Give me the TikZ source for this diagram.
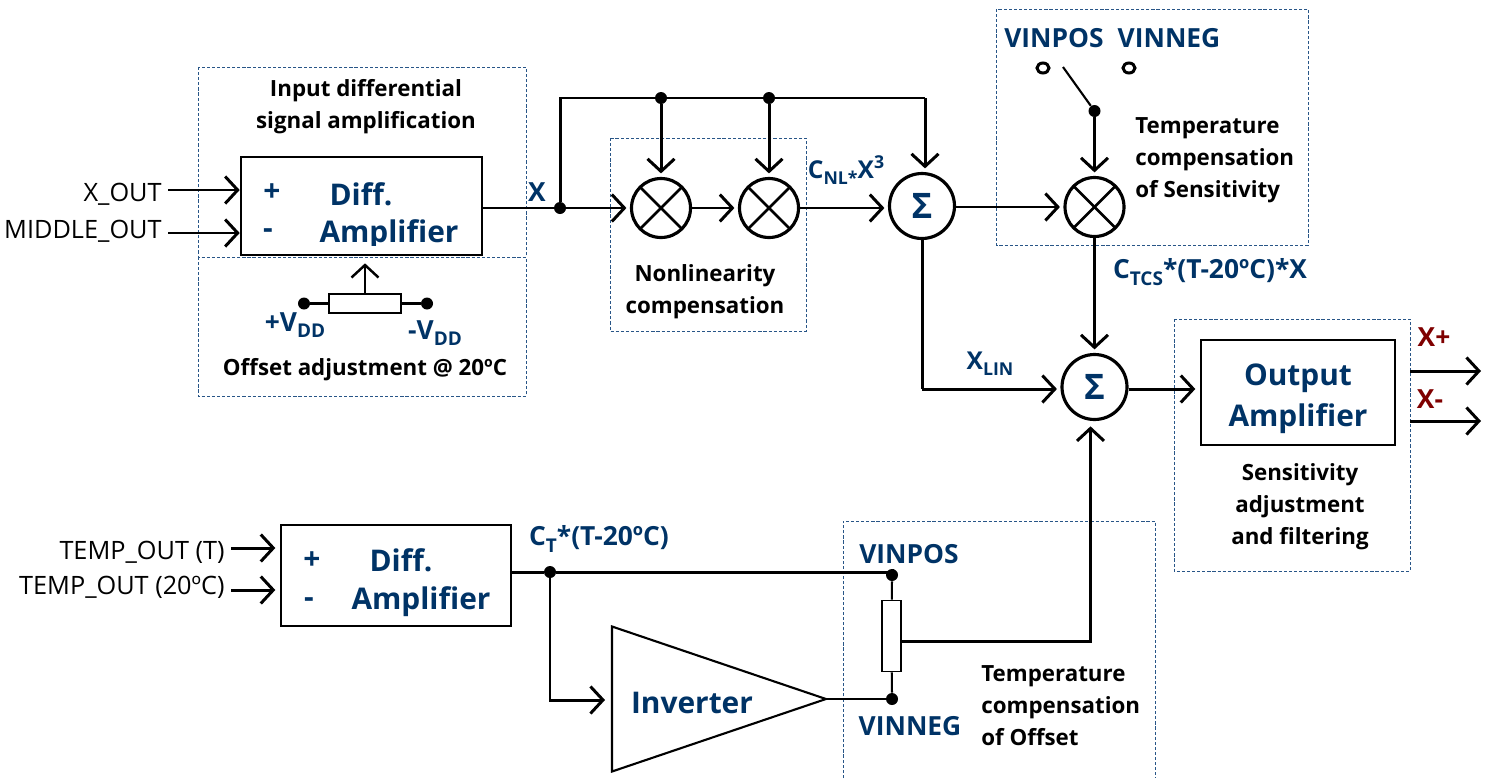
\documentclass[tikz,border=0pt]{standalone}
\usepackage{fontspec}
\setmainfont{Open Sans}
\usetikzlibrary{positioning, fit, arrows.meta, shapes}
\definecolor{navy}{RGB}{0,51,102}
\definecolor{dashblue}{RGB}{40,85,135}
\definecolor{outred}{RGB}{127,0,0}
\newcommand{\lowtxt}[1]{\raisebox{-.45ex}{\scalebox{.72}{#1}}}
\newcommand{\hightxt}[1]{\raisebox{.75ex}{\scalebox{.72}{#1}}}

\begin{document}
\begin{tikzpicture}[
    x=.02cm, y=-.02cm,
    % GLOBAL CFG
    >={Straight Barb[length=2.5mm, width=5.4mm]},
    % Styles
    dashbox/.style={% For dotted frames
        draw=dashblue,
        line width=.55pt,
        dash pattern=on 1.8pt off 1.1pt,
    },
    block/.style={% For amplifiers
        rectangle,
        draw,
        line width=1.5pt,
        inner sep=0pt,
    },
    mult/.style={% For multipliers
        circle,
        draw,
        line width=1.8pt,
        minimum size=1.18cm,
        inner sep=0pt,
        path picture={
            \draw [line width=1.5pt] (path picture bounding box.north west) -- (path picture bounding box.south east);
            \draw [line width=1.5pt] (path picture bounding box.north east) -- (path picture bounding box.south west);
        },
    },
    summer/.style={% For adders
        circle,
        draw,
        line width=1.8pt,
        minimum size=1.3cm,
        inner sep=0pt,
        text=navy,
        font=\fontsize{20}{22}\selectfont\bfseries,
    },
    dot/.style={% For junctions
        circle,
        fill=black,
        minimum size=.24cm,
        inner sep=0pt,
    },
    ring/.style={% For open contacts
        ellipse,
        draw,
        line width=1.7pt,
        minimum width=.24cm,
        minimum height=.2cm,
        inner sep=0pt,
    },
    res/.style={% For resistors
        rectangle,
        draw,
        line width=1.1pt,
        inner sep=0pt,
    },
    note/.style={% For black captions
        align=center,
        inner sep=0pt,
        font=\fontsize{12.7}{18.2}\selectfont\bfseries,
    },
    sig/.style={% For blue signal names
        text=navy,
        inner sep=0pt,
        font=\fontsize{15}{18}\selectfont\bfseries,
    },
    big/.style={% For text in blocks
        text=navy,
        inner sep=0pt,
        font=\fontsize{17}{20}\selectfont\bfseries,
    },
    pin/.style={% For external inputs
        inner sep=0pt,
        anchor=east,
        font=\fontsize{14.4}{16}\selectfont,
    },
    outsig/.style={% For outputs
        text=outred,
        inner sep=0pt,
        font=\fontsize{15}{18}\selectfont\bfseries,
    },
    Wire/.style={
        line width=1.7pt,
    },
    ThinWire/.style={
        line width=1.2pt,
    },
    ]

    \useasboundingbox (0,0) rectangle (1491,778);

    % Draw frames
    \draw [dashbox] (198,67) rectangle (526,257);
    \draw [dashbox] (198,257) rectangle (526,396);
    \draw [dashbox] (610,138) rectangle (806,331);
    \draw [dashbox] (996,9) rectangle (1308,245);
    \draw [dashbox] (1174,319) rectangle (1410,571);
    \draw [dashbox] (843,778) |- (1155,521) -- (1155,778);

    % Draw blocks named amp#
    \node [block, minimum width=4.82cm, minimum height=1.96cm] (amp1) at (361.5,206) {};
    \node [block, minimum width=4.6cm, minimum height=2.02cm] (amp2) at (396,575.5) {};
    \node [block, minimum width=3.88cm, minimum height=2.1cm] (amp3) at (1298,392.5) {};
    \node [isosceles triangle, isosceles triangle stretches, draw, ThinWire, inner sep=0pt, outer sep=0pt,
        minimum width=2.9cm, minimum height=4.28cm, anchor=apex] (inv) at (826,699) {};

    % Draw operators named mult# and sum#
    \node [mult] (mult1) at (661,208) {};
    \node [mult] (mult2) at (769,208) {};
    \node [mult] (mult3) at (1094.5,207) {};
    \node [summer] (sum1) at (922,206) {Σ};
    \node [summer] (sum2) at (1094.5,387) {Σ};

    % Draw junctions and contacts
    \node [dot] (jx) at (560,208) {};
    \node [dot] (jn1) at (661,98) {};
    \node [dot] (jn2) at (769,98) {};
    \node [dot] (jsw) at (1094.5,111) {};
    \node [dot] (jt) at (550,572) {};
    \node [dot] (vpos) at (892,575) {};
    \node [dot] (vneg) at (892,699) {};
    \node [dot] (vdd1) at (304,303.5) {};
    \node [dot] (vdd2) at (427,303.5) {};
    \node [ring] (swp) at (1043,68) {};
    \node [ring] (swn) at (1129,68) {};

    % Draw resistors
    \node [res, minimum width=1.44cm, minimum height=.38cm] (res1) at (365,303.5) {};
    \node [res, minimum width=.38cm, minimum height=1.42cm] (res2) at (891.5,636) {};

    % Free ends
    \coordinate (xin1) at (168,190);
    \coordinate (xin2) at (168,233);
    \coordinate (tin1) at (231,548);
    \coordinate (tin2) at (231,590);
    \coordinate (top) at (925,98);
    \coordinate (arm) at (1063,67);
    \coordinate (xlin) at (922,389);
    \coordinate (wiper) at (1090.5,641);
    \coordinate (invin) at (605,700);
    \coordinate (xp1) at (1410,371);
    \coordinate (xp2) at (1481,371);
    \coordinate (xm1) at (1410,421);
    \coordinate (xm2) at (1481,421);

    % Connect all
    % Inputs
    \draw [->, Wire] (xin1) -- (xin1 -| amp1.west);
    \draw [->, Wire] (xin2) -- (xin2 -| amp1.west);
    \draw [->, Wire, shorten >=2.5pt] (tin1) -- (tin1 -| amp2.west);
    \draw [->, Wire, shorten >=2.5pt] (tin2) -- (tin2 -| amp2.west);

    % Main path
    \draw [Wire] (amp1.east |- jx) -- (jx);
    \draw [->, Wire, shorten >=2pt] (jx) -- (mult1);
    \draw [->, Wire, shorten >=2pt] (mult1) -- (mult2);
    \draw [->, Wire, shorten >=2pt] (mult2) -- (sum1.west |- mult2);
    \draw [->, Wire, shorten >=2pt] (sum1.east |- mult3) -- (mult3);
    \draw [Wire] (jx) |- (top);
    \draw [->, Wire, shorten >=2pt] (top) -- (top |- sum1.north);
    \draw [->, Wire, shorten >=2pt] (jn1) -- (mult1);
    \draw [->, Wire, shorten >=2pt] (jn2) -- (mult2);
    \draw [Wire] (sum1.south) -- (xlin);
    \draw [->, Wire, shorten >=2pt] (xlin) -- (sum2.west |- xlin);
    \draw [->, Wire, shorten >=2pt] (mult3) -- (sum2);
    \draw [->, Wire, shorten >=2.5pt] (sum2.east |- xlin) -- (amp3.west |- xlin);
    \draw [->, Wire, shorten >=2pt] (jsw) -- (mult3);
    \draw [ThinWire] (jsw) -- (arm);

    % Offset adjustment
    \draw [ThinWire] (vdd1) -- (res1);
    \draw [ThinWire] (vdd2) -- (res1);
    \draw [->, ThinWire, line width=1.4pt, shorten >=4pt] (res1) -- (res1 |- amp1.south);

    % Temperature path
    \draw [Wire] (amp2.east |- jt) -- (jt) -- (vpos |- jt) -- (vpos);
    \draw [->, Wire] (jt) |- (invin);
    \draw [ThinWire] (inv.apex) -- (vneg);
    \draw [ThinWire] (vpos) -- (res2);
    \draw [ThinWire] (vneg) -- (res2);
    \draw [->, Wire, shorten >=3pt] (res2.east |- wiper) -| (sum2.south -| wiper);

    % Outputs
    \draw [->, Wire] (xp1) -- (xp2);
    \draw [->, Wire] (xm1) -- (xm2);

    % Text
    \node [pin] (xoutl) at (162,194) {X\_OUT};
    \node [pin] (midl) at (162,231) {MIDDLE\_OUT};
    \node [pin] (t1l) at (225,552) {TEMP\_OUT (T)};
    \node [pin] (t2l) at (225,587) {TEMP\_OUT (20ºC)};

    \node [note] (inl) at (366,107) {Input differential\\signal amplification};
    \node [note] (offl) at (365,370) {Offset adjustment @ 20ºC};
    \node [note] (nonl) at (705,292) {Nonlinearity\\compensation};
    \node [note, align=left, anchor=west] (tcsl) at (1135,160) {Temperature\\compensation\\of Sensitivity};
    \node [note, align=left, anchor=west] (tcol) at (981,706) {Temperature\\compensation\\of Offset};
    \node [note] (sensl) at (1300,507) {Sensitivity\\adjustment\\and filtering};

    \node [big] (plus1) at (272,193) {+};
    \node [big] (minus1) at (268,234) {-};
    \node [big] (diff1) at (361,194) {Diff.};
    \begin{scope}
        \clip (241,156) rectangle (482,245);
        \node [big] (ampl1) at (389,235) {Amplifier};
    \end{scope}
    \node [big] (plus2) at (312,561) {+};
    \node [big] (minus2) at (309,603) {-};
    \node [big] (diff2) at (401,560) {Diff.};
    \node [big] (ampl2) at (421,602) {Amplifier};
    \node [big] (outl1) at (1298,378) {Output};
    \node [big] (outl2) at (1298,419) {Amplifier};
    \node [big] (invl) at (692,703) {Inverter};

    \node [sig] (xl) at (537,192) {X};
    \node [sig, font=\fontsize{14}{18}\selectfont\bfseries] (cnl) at (846,170) {C\lowtxt{NL*}X\hightxt{3}};
    \node [sig, font=\fontsize{14}{18}\selectfont\bfseries] (xlinl) at (990,364) {X\lowtxt{LIN}};
    \node [sig] (ctcs) at (1210,272) {C\lowtxt{TCS}*(T-20ºC)*X};
    \node [sig] (ct) at (599,539) {C\lowtxt{T}*(T-20ºC)};
    \node [sig] (vddp) at (295,325) {+V\lowtxt{DD}};
    \node [sig] (vddn) at (435,333) {-V\lowtxt{DD}};
    \node [sig] (vp1) at (1054,38) {VINPOS};
    \node [sig] (vn1) at (1169,38) {VINNEG};
    \node [sig] (vp2) at (909,554) {VINPOS};
    \node [sig] (vn2) at (910,726) {VINNEG};
    \node [outsig] (xpl) at (1434,337) {X+};
    \node [outsig] (xml) at (1430,399) {X-};

\end{tikzpicture}
\end{document}
